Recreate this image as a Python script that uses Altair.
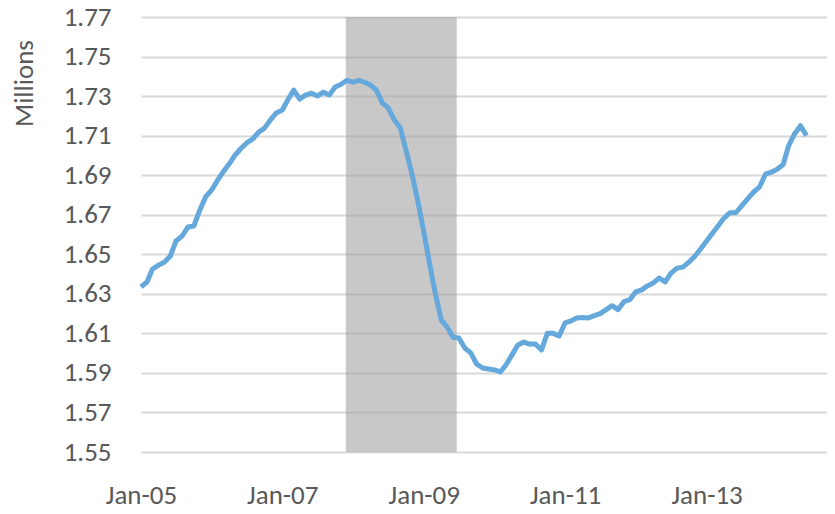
import altair as alt
import pandas as pd

# Monthly values (millions), Jan 2005 .. Jun 2014
values = [
    1.6335, 1.6360, 1.6425, 1.6445, 1.6460, 1.6490, 1.6567, 1.6592, 1.6638, 1.6643, 1.6724, 1.6790,
    1.6825, 1.6875, 1.6916, 1.6956, 1.7000, 1.7035, 1.7063, 1.7083, 1.7118, 1.7138, 1.7180, 1.7215,
    1.7230, 1.7285, 1.7330, 1.7285, 1.7305, 1.7315, 1.7300, 1.7320, 1.7305, 1.7346, 1.7360, 1.7380,
    1.7370, 1.7380, 1.7370, 1.7356, 1.7330, 1.7265, 1.7240, 1.7180, 1.7140, 1.7027, 1.6906, 1.6770,
    1.6613, 1.6446, 1.6304, 1.6168, 1.6132, 1.6080, 1.6077, 1.6026, 1.6000, 1.5945, 1.5925, 1.5920,
    1.5915, 1.5905, 1.5940, 1.5990, 1.6040, 1.6056, 1.6046, 1.6046, 1.6016, 1.6100, 1.6100, 1.6087,
    1.6153, 1.6163, 1.6178, 1.6180, 1.6178, 1.6190, 1.6200, 1.6220, 1.6240, 1.6220, 1.6260, 1.6270,
    1.6310, 1.6320, 1.6340, 1.6355, 1.6380, 1.6360, 1.6405, 1.6430, 1.6435, 1.6460, 1.6490, 1.6527,
    1.6567, 1.6608, 1.6643, 1.6683, 1.6710, 1.6710, 1.6745, 1.6780, 1.6815, 1.6840, 1.6905, 1.6915,
    1.6930, 1.6955, 1.7050, 1.7110, 1.7150, 1.7100,
]
start_month = "2005-01-01"
dates = pd.date_range(start_month, periods=len(values), freq="MS").strftime("%Y-%m-%d").tolist()

recession_start = ["2007-11-25"]
recession_end = ["2009-06-20"]

y_ticks = [1.55, 1.57, 1.59, 1.61, 1.63, 1.65, 1.67, 1.69, 1.71, 1.73, 1.75, 1.77]
x_tick_years = [2005, 2007, 2009, 2011, 2013]

df = pd.DataFrame({"date": dates, "value": values})
rec = pd.DataFrame({"start": recession_start, "end": recession_end})

FONT = "Carlito, Calibri, Lato, sans-serif"
FS = 27

x_scale = alt.Scale(
    type="utc",
    domain=[alt.DateTime(year=2005, month=1, date=1, utc=True),
            alt.DateTime(year=2014, month=9, date=15, utc=True)],
    nice=False,
)
y_scale = alt.Scale(domain=[1.55, 1.77], nice=False, zero=False)

x_axis = alt.Axis(
    values=[alt.DateTime(year=y, month=1, date=1, utc=True) for y in x_tick_years],
    labelExpr="utcFormat(datum.value, '%b-%y')",
    grid=False, ticks=False, domain=False, title=None, labelFlush=False,
    labelFontSize=FS, labelColor="#595959", labelPadding=30, labelFont=FONT,
)
y_axis = alt.Axis(
    values=y_ticks, format=".2f", ticks=False, domain=False,
    grid=True, gridColor="#d9d9d9", gridWidth=2, gridOpacity=1,
    labelFontSize=FS, labelColor="#595959", labelPadding=30, labelFont=FONT,
    title="Millions", titleFontSize=FS, titleColor="#595959", titleFontWeight="normal",
    titleFont=FONT, titleAngle=270, titleX=-117, titleY=66, titleAlign="center",
    titleBaseline="middle",
)

shade = alt.Chart(rec).mark_rect(color="#a0a0a0", opacity=0.58).encode(
    x=alt.X("start:T", scale=x_scale, axis=x_axis),
    x2="end:T",
    y=alt.Y(datum=1.77, scale=y_scale, axis=y_axis),
    y2=alt.Y2(datum=1.55),
)

line = alt.Chart(df).mark_line(color="#65a8dc", strokeWidth=5, strokeJoin="round").encode(
    x=alt.X("date:T", scale=x_scale, axis=x_axis),
    y=alt.Y("value:Q", scale=y_scale, axis=y_axis),
)

chart = alt.layer(shade, line).properties(
    width=686, height=435,
    background="white",
    autosize=alt.AutoSizeParams(type="none"),
    padding={"left": 133, "top": 9, "right": 0, "bottom": 60},
).configure_view(stroke="transparent")

chart.save("out.html", embed_options={"renderer": "svg", "actions": False})
